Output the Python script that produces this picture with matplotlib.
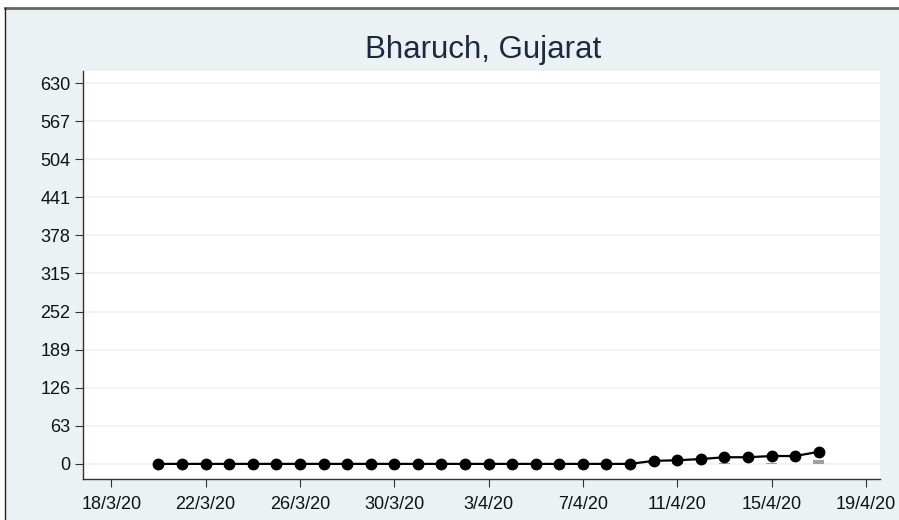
import datetime as dt
import matplotlib
matplotlib.use("Agg")
import matplotlib.pyplot as plt
import matplotlib.dates as mdates
from matplotlib.patches import Rectangle

plt.rcParams['font.family'] = ['Liberation Sans', 'DejaVu Sans']

# data (cumulative cases + small daily bars)
start = dt.date(2020, 3, 20)
dates = [start + dt.timedelta(days=i) for i in range(29)]
cases = [0] * 21 + [5, 6, 8, 11, 11, 13, 13, 20]

bar_dates = [dt.date(2020, 4, 10), dt.date(2020, 4, 11), dt.date(2020, 4, 13),
             dt.date(2020, 4, 15), dt.date(2020, 4, 17)]
bar_vals = [3, 1, 2, 1, 6]

yticks = list(range(0, 631, 63))
xticks = [dt.date(2020, 3, 18) + dt.timedelta(days=4 * i) for i in range(9)]

bg = '#eaf2f3'
fig = plt.figure(figsize=(8.99, 5.2), dpi=100, facecolor='white')
fig.patches.append(Rectangle((5 / 899, 0), 1, 1 - 8 / 520, transform=fig.transFigure,
                             facecolor=bg, edgecolor='none', zorder=-2))
fig.add_artist(plt.Line2D([5 / 899, 1], [1 - 8 / 520] * 2, color='#666666', lw=2,
                          transform=fig.transFigure))
fig.add_artist(plt.Line2D([5 / 899] * 2, [0, 1 - 8 / 520], color='#222222', lw=1,
                          transform=fig.transFigure))

ax = fig.add_axes([83 / 899, 1 - 479 / 520, (880 - 83) / 899, (479 - 71) / 520])
ax.set_facecolor('white')

ax.bar(bar_dates, bar_vals, width=0.45, color='#a0a0a0', zorder=2)
ax.plot(dates, cases, color='black', lw=1.6, marker='o', markersize=7.5, zorder=3)

ax.set_yticks(yticks)
ax.set_xticks(xticks)
ax.xaxis.set_major_formatter(mdates.DateFormatter('%-d/%-m/%y'))
x0 = mdates.date2num(dt.date(2020, 3, 18))
ax.set_xlim(x0 - 1.2, x0 + 32.6)
ax.set_ylim(-25, 650)

ax.grid(axis='y', color='#eef2f4', lw=1.2)
ax.set_axisbelow(True)
for s in ['top', 'right']:
    ax.spines[s].set_visible(False)
for s in ['left', 'bottom']:
    ax.spines[s].set_color('#333333')
    ax.spines[s].set_linewidth(1.0)
ax.tick_params(axis='both', labelsize=13, length=6, color='#333333', labelcolor='#111111')
ax.tick_params(axis='x', pad=6)
ax.tick_params(axis='y', pad=3)

fig.text(483 / 899, 1 - 50 / 520, 'Bharuch, Gujarat', ha='center', va='center',
         fontsize=22.5, color='#1e2840')

fig.savefig('out.png', dpi=100, facecolor=fig.get_facecolor())
